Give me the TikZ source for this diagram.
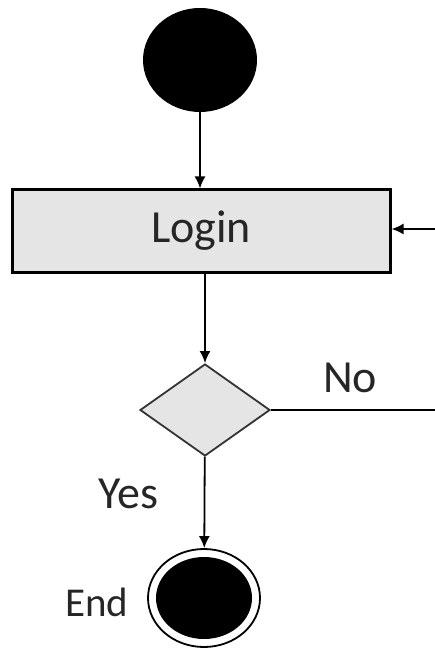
\documentclass[tikz,border=0pt]{standalone}
\usepackage{fontspec}
\setmainfont{Carlito}
\usetikzlibrary{shapes.geometric,arrows.meta}

\tikzset{flow/.style={line width=1.8pt,-{Latex[length=12pt,width=11pt]}},
  lbl/.style={font=\fontsize{46}{50}\selectfont,text=black!85}}

\begin{document}
\begin{tikzpicture}[x=1pt,y=-1pt]
      \useasboundingbox (0,0) rectangle (435,652);
      \node[ellipse,fill=black,inner sep=0,minimum width=114pt,minimum height=104pt] (start) at (200,60) {};
      \node[draw,line width=3pt,fill=black!10,minimum width=378pt,minimum height=82pt,lbl] (login) at (201,231) {Login};
      \node[diamond,draw=black!80,line width=1.8pt,fill=black!10,inner sep=0,minimum width=130pt,minimum height=92pt] (check) at (205,410) {};
      \node[ellipse,draw,line width=1.8pt,fill=white,inner sep=0,minimum width=112pt,minimum height=98pt] (end) at (204,598) {};
      \node[ellipse,fill=black,inner sep=0,minimum width=96pt,minimum height=82pt] (endin) at (end) {};
      \node[lbl] (no) at (350,378) {No}; \node[lbl] (yes) at (128,494) {Yes};
      \node[lbl,font=\fontsize{41}{45}\selectfont] (endlbl) at (97,602) {End};
      \coordinate (turnA) at (436,410); \coordinate (turnB) at (436,229);
      \draw[flow] (start) -- (login.north -| start); \draw[flow] (login.south -| check) -- (check);
      \draw[flow] (check) -- (end); \draw[flow] (check.east) -- (turnA) -- (turnB) -- (login.east |- turnB);
\end{tikzpicture}
\end{document}
